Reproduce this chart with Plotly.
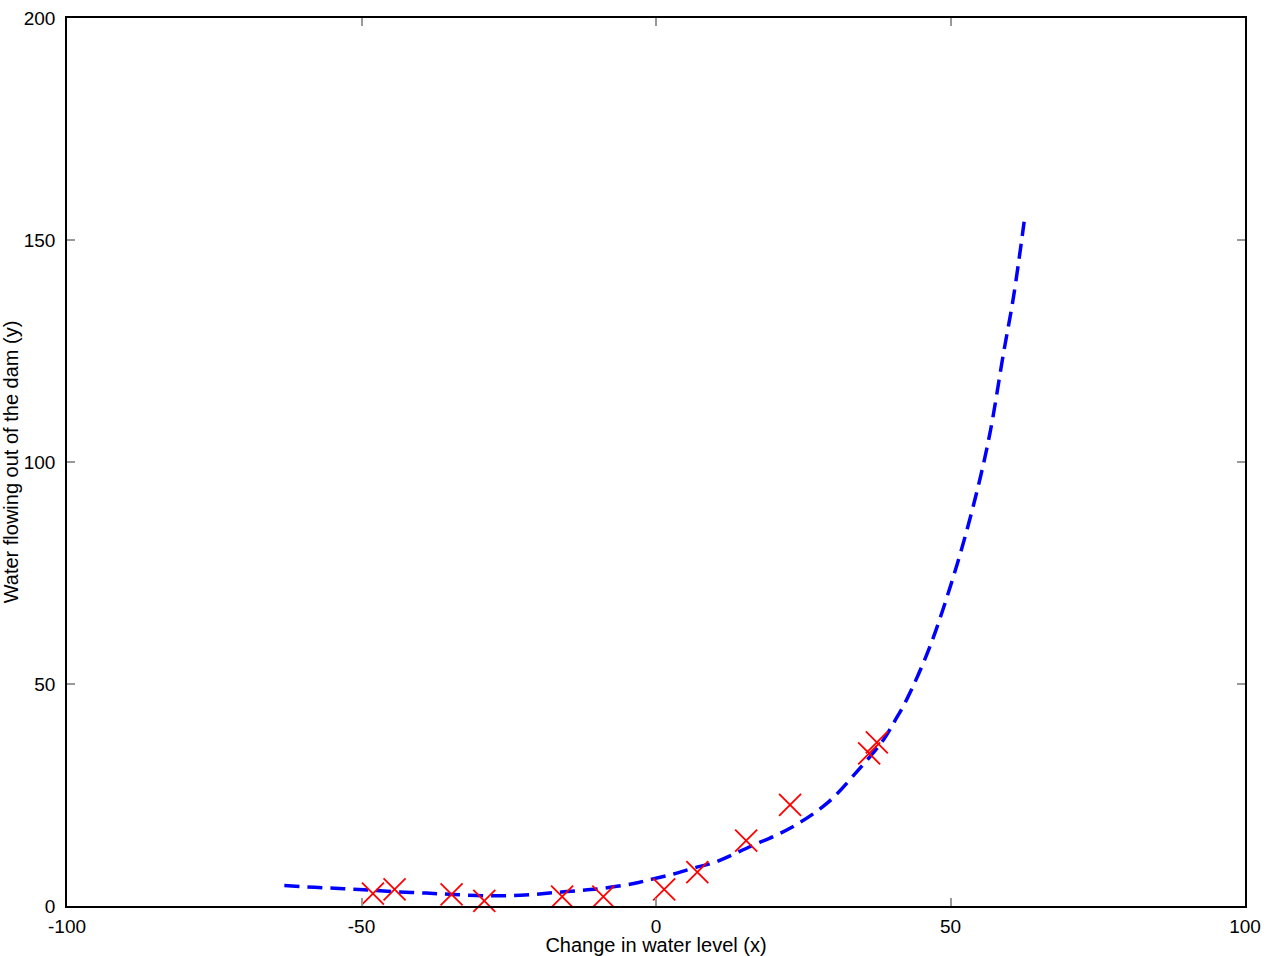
import plotly.graph_objects as go

# Training data (red crosses)
x_train = [-15.9368, -29.1530, 36.1895, 37.4922, -48.0588, -8.9415,
           15.3078, -34.7063, 1.3892, -44.3838, 7.0135, 22.7627]
y_train = [2.1343, 1.1733, 34.3591, 36.8380, 2.8090, 2.1211,
           14.7103, 2.6142, 3.7402, 3.7317, 7.6277, 22.7524]

# Fitted curve (blue dashed)
x_fit = [-63.1, -58, -53, -48.6, -44, -39, -34.4, -28.7, -23, -17.4, -12,
         -8.9, -4, -0.5, 3, 6.3, 10.3, 16, 22.75, 29, 34.6, 38.6, 40.6,
         42.6, 46.5, 51, 54.4, 56.7, 59, 60.7, 62.5]
y_fit = [4.6, 4.2, 3.9, 3.6, 3.2, 2.9, 2.6, 2.3, 2.4, 3.0, 3.6,
         4.0, 5.0, 6.1, 7.2, 8.5, 10.0, 13.4, 17.5, 23.1, 31.0, 37.4, 41.8,
         46.6, 58.4, 76.4, 92.9, 106.5, 124.5, 137.2, 154.1]

x_ticks = [-100, -50, 0, 50, 100]
x_tick_text = ["-100", "-50", "0", "50", "100"]
y_ticks = [0, 50, 100, 150, 200]
y_tick_text = ["0", "50", "100", "150", "200"]

FONT = "Liberation Sans, Arial, Helvetica, sans-serif"

fig = go.Figure()
fig.add_trace(go.Scatter(
    x=x_fit, y=y_fit, mode="lines",
    line=dict(color="#0000ff", width=3.5, dash="15px,8px", shape="spline"),
    showlegend=False,
))
fig.add_trace(go.Scatter(
    x=x_train, y=y_train, mode="markers",
    marker=dict(symbol="x-thin", size=22, line=dict(color="#ff0000", width=1.8),
                color="#ff0000"),
    cliponaxis=False, showlegend=False,
))

axis_common = dict(
    showgrid=False, zeroline=False, showline=True, linecolor="black",
    linewidth=1.5, mirror="allticks", ticks="inside", ticklen=8,
    tickcolor="#999999", tickwidth=1.5, automargin=False,
    tickfont=dict(family=FONT, size=19, color="black"),
)

fig.update_layout(
    width=1268, height=956,
    margin=dict(l=67, r=23, t=18, b=50),
    paper_bgcolor="white", plot_bgcolor="white",
    xaxis=dict(range=[-100, 100], tickvals=x_ticks, ticktext=x_tick_text,
               ticklabelstandoff=2,
               title=dict(text="Change in water level (x)", standoff=3,
                          font=dict(family=FONT, size=20, color="black")),
               **axis_common),
    yaxis=dict(range=[0, 200], tickvals=y_ticks, ticktext=y_tick_text,
               ticklabelstandoff=6,
               title=dict(text="Water flowing out of the dam (y)", standoff=4,
                          font=dict(family=FONT, size=20, color="black")),
               **axis_common),
)

fig.write_html("out.html", config={"displayModeBar": False},
               post_script="document.body.style.margin='0px';")
